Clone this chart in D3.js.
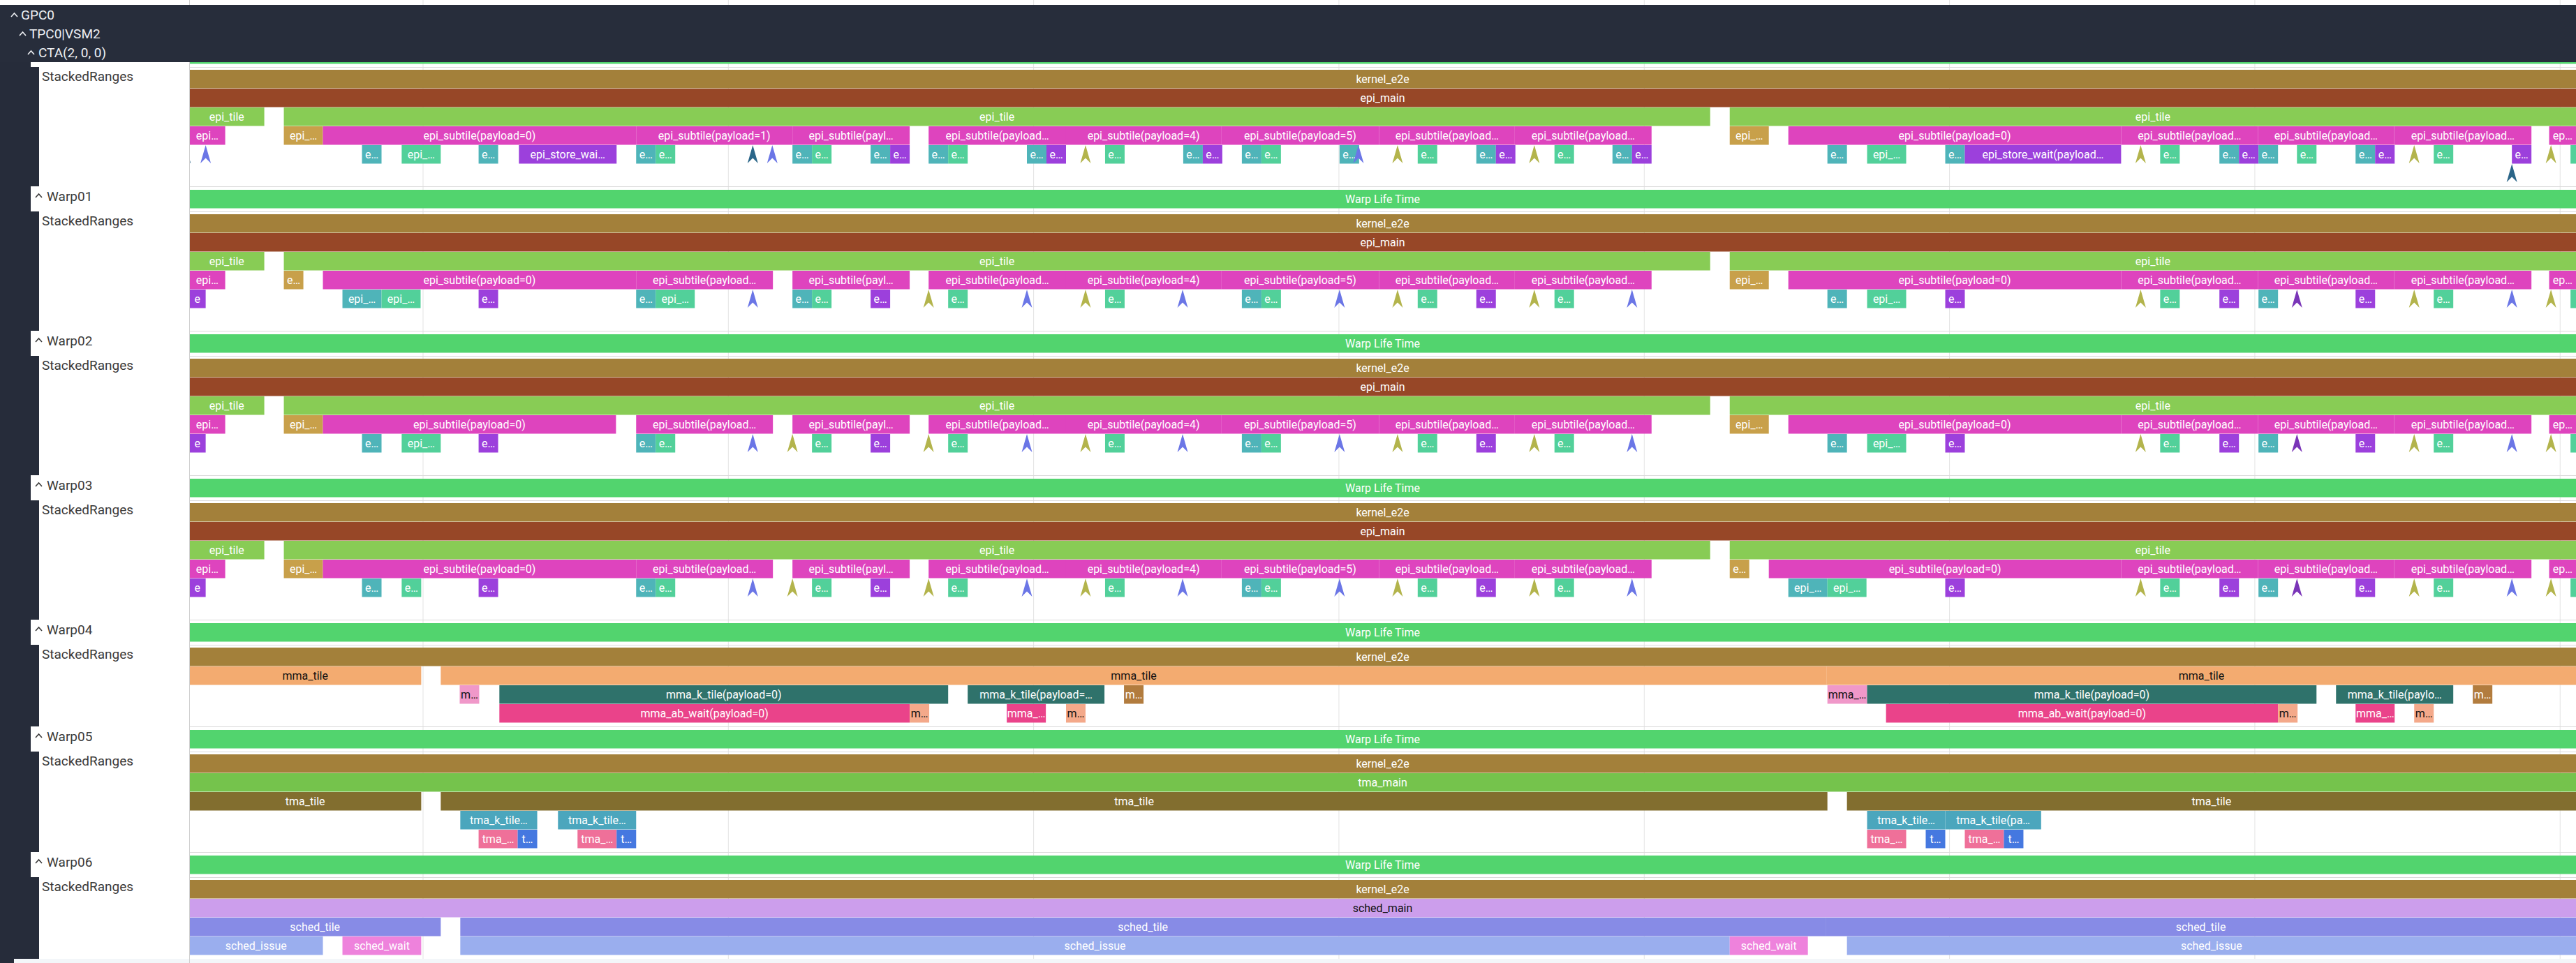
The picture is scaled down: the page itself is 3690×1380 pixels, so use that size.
<!DOCTYPE html>
<html>
<head>
<meta charset="utf-8">
<script src="https://cdn.jsdelivr.net/npm/d3@7"></script>
<style>
  body { margin: 0; background: #fff; }
  svg  { display: block; font-family: Roboto, "Noto Sans", sans-serif; }
</style>
</head>
<body>
<div id="chart"></div>
<script>
// ---- Data (times in ns) ----
const timeDomain = [4617, 8526];

const lifeTime  = [4400, 8800];
const kernelE2E = [4400, 8800];

// epi warps share the top levels
const epiMain  = [4400, 8800];
const epiTiles = [[4500, 4740], [4772, 7108], [7140, 8800]];

// level 3 of epi warps: [kind, payload, start, end]
const warp00Sub = [["S",7,4560,4676],["A",null,4772,4836],["S",0,4836,5349],["S",1,5349,5605],["S",2,5605,5797],
  ["S",3,5828,6053],["S",4,6053,6307],["S",5,6307,6566],["S",6,6566,6788],["S",7,6788,7012],
  ["A",null,7140,7204],["S",0,7236,7781],["S",1,7781,8005],["S",2,8005,8228],["S",3,8228,8453],["S",4,8482,8700]];
const warp01Sub = [["S",7,4560,4676],["A",null,4772,4804],["S",0,4836,5349],["S",1,5349,5573],["S",2,5605,5797],
  ["S",3,5828,6053],["S",4,6053,6307],["S",5,6307,6566],["S",6,6566,6788],["S",7,6788,7012],
  ["A",null,7140,7204],["S",0,7236,7781],["S",1,7781,8005],["S",2,8005,8228],["S",3,8228,8453],["S",4,8482,8700]];
const warp02Sub = [["S",7,4560,4676],["A",null,4772,4836],["S",0,4836,5316],["S",1,5349,5573],["S",2,5605,5797],
  ["S",3,5828,6053],["S",4,6053,6307],["S",5,6307,6566],["S",6,6566,6788],["S",7,6788,7012],
  ["A",null,7140,7204],["S",0,7236,7781],["S",1,7781,8005],["S",2,8005,8228],["S",3,8228,8453],["S",4,8482,8700]];
const warp03Sub = [["S",7,4560,4676],["A",null,4772,4836],["S",0,4836,5349],["S",1,5349,5573],["S",2,5605,5797],
  ["S",3,5828,6053],["S",4,6053,6307],["S",5,6307,6566],["S",6,6566,6788],["S",7,6788,7012],
  ["A",null,7140,7172],["S",0,7204,7781],["S",1,7781,8005],["S",2,8005,8228],["S",3,8228,8453],["S",4,8482,8700]];

// level 4 of epi warps: [kind, payload, start, end]
const warp00Leaf = [["T",0,4900,4932],["M",0,4965,5029],["T",0,5091,5123],["W",0,5157,5317],
  ["T",1,5349,5381],["M",1,5381,5413],["T",2,5605,5637],["M",2,5637,5669],["T",2,5733,5765],["W",2,5765,5797],
  ["T",3,5828,5860],["M",3,5860,5892],["T",3,5989,6021],["W",3,6021,6053],["M",4,6117,6149],["T",4,6245,6277],["W",4,6277,6309],
  ["T",5,6341,6373],["M",5,6373,6405],["T",5,6501,6533],["M",6,6629,6661],["T",6,6725,6757],["W",6,6757,6789],
  ["M",7,6853,6885],["T",7,6948,6980],["W",7,6980,7012],
  ["T",0,7300,7332],["M",0,7365,7429],["T",0,7493,7525],["W",0,7525,7781],["M",1,7845,7877],["T",1,7942,7974],["W",1,7974,8006],
  ["T",2,8006,8038],["M",2,8069,8101],["T",2,8165,8197],["W",2,8197,8229],["M",3,8293,8325],["W",3,8421,8453],["M",4,8517,8549]];
const warp01Leaf = [["W",7,4590,4644],["T",0,4868,4932],["M",0,4932,4996],["W",0,5091,5123],
  ["T",1,5349,5381],["M",1,5381,5445],["T",2,5605,5637],["M",2,5637,5669],["W",2,5733,5765],
  ["M",3,5860,5892],["M",4,6117,6149],["T",5,6341,6373],["M",5,6373,6405],["M",6,6629,6661],["W",6,6725,6757],["M",7,6853,6885],
  ["T",0,7300,7332],["M",0,7365,7429],["W",0,7493,7525],["M",1,7845,7877],["W",1,7942,7974],["T",2,8006,8038],["W",2,8165,8197],
  ["M",3,8293,8325],["M",4,8517,8549]];
const warp02Leaf = [["W",7,4590,4644],["T",0,4900,4932],["M",0,4965,5029],["W",0,5091,5123],
  ["T",1,5349,5381],["M",1,5381,5413],["M",2,5637,5669],["W",2,5733,5765],
  ["M",3,5860,5892],["M",4,6117,6149],["T",5,6341,6373],["M",5,6373,6405],["M",6,6629,6661],["W",6,6725,6757],["M",7,6853,6885],
  ["T",0,7300,7332],["M",0,7365,7429],["W",0,7493,7525],["M",1,7845,7877],["W",1,7942,7974],["T",2,8006,8038],["W",2,8165,8197],
  ["M",3,8293,8325],["M",4,8517,8549]];
const warp03Leaf = [["W",7,4590,4644],["T",0,4900,4932],["M",0,4965,4997],["W",0,5091,5123],
  ["T",1,5349,5381],["M",1,5381,5413],["M",2,5637,5669],["W",2,5733,5765],
  ["M",3,5860,5892],["M",4,6117,6149],["T",5,6341,6373],["M",5,6373,6405],["M",6,6629,6661],["W",6,6725,6757],["M",7,6853,6885],
  ["T",0,7236,7300],["M",0,7300,7364],["W",0,7493,7525],["M",1,7845,7877],["W",1,7942,7974],["T",2,8006,8038],["W",2,8165,8197],
  ["M",3,8293,8325],["M",4,8517,8549]];

// instant markers: [kind, time, level]
const warp00Marks = [["dark",4611,4],["blue",4644,4],["dark",5540,4],["blue",5572,4],["olive",6085,4],["blue",6532,4],
  ["olive",6596,4],["olive",6820,4],["olive",7813,4],["olive",8261,4],["dark",8421,5],["olive",8485,4]];
const warp01Marks = [["blue",5540,4],["olive",5828,4],["blue",5989,4],["olive",6085,4],["blue",6244,4],["blue",6501,4],
  ["olive",6596,4],["olive",6820,4],["blue",6980,4],["olive",7813,4],["purple",8069,4],["olive",8261,4],["blue",8421,4],["olive",8485,4]];
const warp02Marks = [["blue",5540,4],["olive",5605,4],["olive",5828,4],["blue",5989,4],["olive",6085,4],["blue",6244,4],["blue",6501,4],
  ["olive",6596,4],["olive",6820,4],["blue",6980,4],["olive",7813,4],["purple",8069,4],["olive",8261,4],["blue",8421,4],["olive",8485,4]];
const warp03Marks = [["blue",5540,4],["olive",5605,4],["olive",5828,4],["blue",5989,4],["olive",6085,4],["blue",6244,4],["blue",6501,4],
  ["olive",6596,4],["olive",6820,4],["blue",6980,4],["olive",7813,4],["purple",8069,4],["olive",8261,4],["blue",8421,4],["olive",8485,4]];

// other warps: [level, name, start, end]
const warp04Slices = [[1,"mma_tile",4500,4997],[1,"mma_tile",5029,7299],[1,"mma_tile",7299,8800],
  [2,"mma_acc_wait",5060,5092],[2,"mma_k_tile(payload=0)",5125,5860],[2,"mma_k_tile(payload=1)",5892,6116],[2,"mma_commit",6148,6180],
  [2,"mma_acc_wait",7300,7365],[2,"mma_k_tile(payload=0)",7365,8101],[2,"mma_k_tile(payload=1)",8133,8325],[2,"mma_commit",8357,8389],
  [3,"mma_ab_wait(payload=0)",5125,5797],[3,"mma_release(payload=0)",5797,5829],[3,"mma_ab_wait(payload=1)",5956,6020],[3,"mma_release(payload=1)",6053,6085],
  [3,"mma_ab_wait(payload=0)",7396,8038],[3,"mma_release(payload=0)",8038,8070],[3,"mma_ab_wait(payload=1)",8165,8229],[3,"mma_release(payload=1)",8261,8293]];
const warp05Slices = [[1,"tma_main",4400,8800],[2,"tma_tile",4500,4997],[2,"tma_tile",5029,7300],[2,"tma_tile",7332,8800],
  [3,"tma_k_tile(payload=0)",5061,5187],[3,"tma_k_tile(payload=1)",5221,5349],[3,"tma_k_tile(payload=0)",7365,7493],[3,"tma_k_tile(payload=1)",7493,7650],
  [4,"tma_ab_wait(payload=0)",5091,5155],[4,"tma_issue(payload=0)",5155,5187],[4,"tma_ab_wait(payload=1)",5253,5317],[4,"tma_issue(payload=1)",5317,5349],
  [4,"tma_ab_wait(payload=0)",7365,7429],[4,"tma_issue(payload=0)",7461,7493],[4,"tma_ab_wait(payload=1)",7525,7589],[4,"tma_issue(payload=1)",7589,7621]];
const warp06Slices = [[1,"sched_main",4400,8800],[2,"sched_tile",4500,5029],[2,"sched_tile",5061,7297],[2,"sched_tile",7297,8800],
  [3,"sched_issue",4500,4836],[3,"sched_wait",4868,4997],[3,"sched_issue",5061,7140],[3,"sched_wait",7140,7268],[3,"sched_issue",7332,8800]];

// ---- Styles ----
const kindNames = { S: "epi_subtile", A: "epi_acc_wait", T: "epi_tmem_load", M: "epi_smem_store", W: "epi_store_wait" };
const sliceColors = {
  "Warp Life Time": "#52d46e", kernel_e2e: "#a3803a",
  epi_main: "#974727", epi_tile: "#88cc55", epi_subtile: "#de44be", epi_acc_wait: "#c8a04a",
  epi_tmem_load: "#4fb4b9", epi_smem_store: "#52d09a", epi_store_wait: "#9c40dc",
  mma_tile: "#f3ab70", mma_acc_wait: "#f098c9", mma_k_tile: "#2f726b", mma_ab_wait: "#ea438a",
  mma_release: "#f4a98a", mma_commit: "#b27c3e",
  tma_main: "#75c34c", tma_tile: "#826e2f", tma_k_tile: "#4ba6bd", tma_ab_wait: "#ef7099", tma_issue: "#4578e0",
  sched_main: "#cc9eec", sched_tile: "#878be6", sched_issue: "#9aaeee", sched_wait: "#ee82dc"
};
const darkText = new Set(["mma_tile", "mma_acc_wait", "mma_release", "sched_main"]);
const instantColors = { dark: "#2b6689", blue: "#6b76e6", olive: "#b3b44c", purple: "#7a35b8" };

// ---- Build warp tracks ----
function epiSlices(sub, leaf) {
  const nm = (k, p) => p == null ? kindNames[k] : `${kindNames[k]}(payload=${p})`;
  return [[1, "epi_main", epiMain[0], epiMain[1]]]
    .concat(epiTiles.map(d => [2, "epi_tile", d[0], d[1]]))
    .concat(sub.map(d => [3, nm(d[0], d[1]), d[2], d[3]]))
    .concat(leaf.map(d => [4, nm(d[0], d[1]), d[2], d[3]]));
}
const warps = [
  { name: "Warp00", levels: 6, slices: epiSlices(warp00Sub, warp00Leaf), marks: warp00Marks },
  { name: "Warp01", levels: 6, slices: epiSlices(warp01Sub, warp01Leaf), marks: warp01Marks },
  { name: "Warp02", levels: 6, slices: epiSlices(warp02Sub, warp02Leaf), marks: warp02Marks },
  { name: "Warp03", levels: 6, slices: epiSlices(warp03Sub, warp03Leaf), marks: warp03Marks },
  { name: "Warp04", levels: 4, slices: warp04Slices, marks: [] },
  { name: "Warp05", levels: 5, slices: warp05Slices, marks: [] },
  { name: "Warp06", levels: 4, slices: warp06Slices, marks: [] }
];

// ---- Layout ----
const W = 3690, H = 1380;
const panelW = 271;
const headerTop = 7, headerBottom = 89;
const firstRowTop = 60;
const headRowH = 36, levelH = 27, padTop = 4, padBottom = 5;
const leftText = "#3a3a3a", lineColor = "#dadada", gutter = "#262c3a";

const svg = d3.select("#chart").append("svg")
  .attr("width", W).attr("height", H);

const x = d3.scaleLinear().domain(timeDomain).range([panelW, W]);

// char width as used for cropping labels
const probe = svg.append("text").attr("font-size", 16).text("ACBDLqsdfg");
const charW = probe.node().getComputedTextLength() / 10;
probe.remove();

function cropText(str, w) {
  const maxLen = Math.floor(w / charW) - 1;
  if (maxLen <= 0) return "";
  if (str.length <= maxLen) return str;
  if (maxLen > 1) return str.substring(0, maxLen - 1) + "\u2026";
  return str.substring(0, maxLen);
}

const defs = svg.append("defs");
defs.append("clipPath").attr("id", "tracks-clip")
  .append("rect").attr("x", panelW).attr("y", headerBottom).attr("width", W - panelW).attr("height", H - headerBottom);
defs.append("clipPath").attr("id", "left-clip")
  .append("rect").attr("x", 0).attr("y", headerBottom - 2).attr("width", panelW).attr("height", H - headerBottom + 2);

// gridlines
svg.append("g")
  .selectAll("line")
  .data(x.ticks(8))
  .join("line")
    .attr("x1", d => x(d)).attr("x2", d => x(d))
    .attr("y1", 0).attr("y2", H)
    .attr("stroke", "#e3e3e3");

const tracks = svg.append("g").attr("clip-path", "url(#tracks-clip)");
const lines  = svg.append("g");
const left   = svg.append("g").attr("clip-path", "url(#left-clip)");

left.append("rect").attr("x", 0).attr("y", headerTop).attr("width", panelW).attr("height", H - headerTop).attr("fill", gutter);

function drawSlice(t0, t1, y, name, base) {
  const a = Math.max(x(t0), panelW), b = Math.min(x(t1), W);
  if (b - a <= 0) return;
  tracks.append("rect")
    .attr("x", x(t0)).attr("y", y)
    .attr("width", x(t1) - x(t0)).attr("height", levelH - 0.5)
    .attr("fill", sliceColors[base]);
  const label = cropText(name, b - a);
  if (label) {
    tracks.append("text")
      .attr("x", (a + b) / 2).attr("y", y + levelH / 2 + 5.5)
      .attr("text-anchor", "middle")
      .attr("font-size", 16)
      .attr("fill", darkText.has(base) ? "#111" : "#fff")
      .text(label);
  }
}

function caret(cx, cy, color) {
  left.append("path")
    .attr("d", `M${cx - 4.5},${cy + 2.5}L${cx},${cy - 2.5}L${cx + 4.5},${cy + 2.5}`)
    .attr("fill", "none").attr("stroke", color).attr("stroke-width", 1.6);
}

let rowY = firstRowTop;
warps.forEach(w => {
  const headTop = rowY, stackTop = rowY + headRowH;
  const rowEnd = stackTop + padTop + w.levels * levelH + padBottom;

  // left labels
  left.append("rect").attr("x", 44).attr("y", headTop).attr("width", panelW - 44).attr("height", headRowH).attr("fill", "#fff");
  left.append("rect").attr("x", 56).attr("y", stackTop).attr("width", panelW - 56).attr("height", rowEnd - stackTop).attr("fill", "#fff");
  if (headTop + 21 > headerBottom) {
    caret(55.5, headTop + 13.5, leftText);
    left.append("text").attr("x", 67).attr("y", headTop + 21).attr("font-size", 19).attr("fill", leftText).text(w.name);
  }
  left.append("text").attr("x", 60).attr("y", stackTop + 20).attr("font-size", 19).attr("fill", leftText).text("StackedRanges");

  [headTop, stackTop].forEach(yy => lines.append("line")
    .attr("x1", 44).attr("x2", W).attr("y1", yy + 0.5).attr("y2", yy + 0.5).attr("stroke", lineColor));

  // life-time bar in the header row
  const lifeY = headTop + 5;
  drawSlice(lifeTime[0], lifeTime[1], lifeY, "Warp Life Time", "Warp Life Time");

  // stacked ranges
  const lvlY = l => stackTop + padTop + l * levelH;
  drawSlice(kernelE2E[0], kernelE2E[1], lvlY(0), "kernel_e2e", "kernel_e2e");
  w.slices.forEach(([lvl, name, s, e]) => drawSlice(s, e, lvlY(lvl), name, name.split("(")[0]));

  w.marks.forEach(([kind, t, lvl]) => {
    const cx = x(t), y0 = lvlY(lvl), h = levelH - 1, hw = 7.5;
    tracks.append("path")
      .attr("d", `M${cx},${y0}L${cx + hw},${y0 + h}L${cx},${y0 + h - hw}L${cx - hw},${y0 + h}Z`)
      .attr("fill", instantColors[kind]);
  });

  rowY = rowEnd;
});

// next group header (cut off at the bottom)
svg.append("rect").attr("x", 20).attr("y", rowY).attr("width", W - 20).attr("height", H - rowY).attr("fill", "#f3f6f9");
lines.append("line").attr("x1", 20).attr("x2", W).attr("y1", rowY + 0.5).attr("y2", rowY + 0.5).attr("stroke", lineColor);
svg.append("path")
  .attr("d", `M${27.5},${rowY + 13}L${32},${rowY + 8}L${36.5},${rowY + 13}`)
  .attr("fill", "none").attr("stroke", leftText).attr("stroke-width", 1.6);
svg.append("text").attr("x", 42).attr("y", rowY + 19).attr("font-size", 19).attr("fill", leftText).text("TPC0|VSM3");

// divider between label panel and tracks
svg.append("line").attr("x1", panelW + 0.5).attr("x2", panelW + 0.5).attr("y1", 0).attr("y2", H).attr("stroke", "#cfcfcf");

// sticky group header
const head = svg.append("g");
head.append("rect").attr("x", 0).attr("y", headerTop).attr("width", W).attr("height", headerBottom - headerTop).attr("fill", "#272d3b");
const headRows = [["GPC0", 20.5, 30, 28], ["TPC0|VSM2", 32.5, 42, 55], ["CTA(2, 0, 0)", 44.5, 55, 82]];
headRows.forEach(([label, cx, tx, by]) => {
  head.append("path")
    .attr("d", `M${cx - 4.5},${by - 4}L${cx},${by - 9}L${cx + 4.5},${by - 4}`)
    .attr("fill", "none").attr("stroke", "#eef0f4").attr("stroke-width", 1.6);
  head.append("text").attr("x", tx).attr("y", by).attr("font-size", 19).attr("fill", "#eef0f4").text(label);
});
</script>
</body>
</html>
